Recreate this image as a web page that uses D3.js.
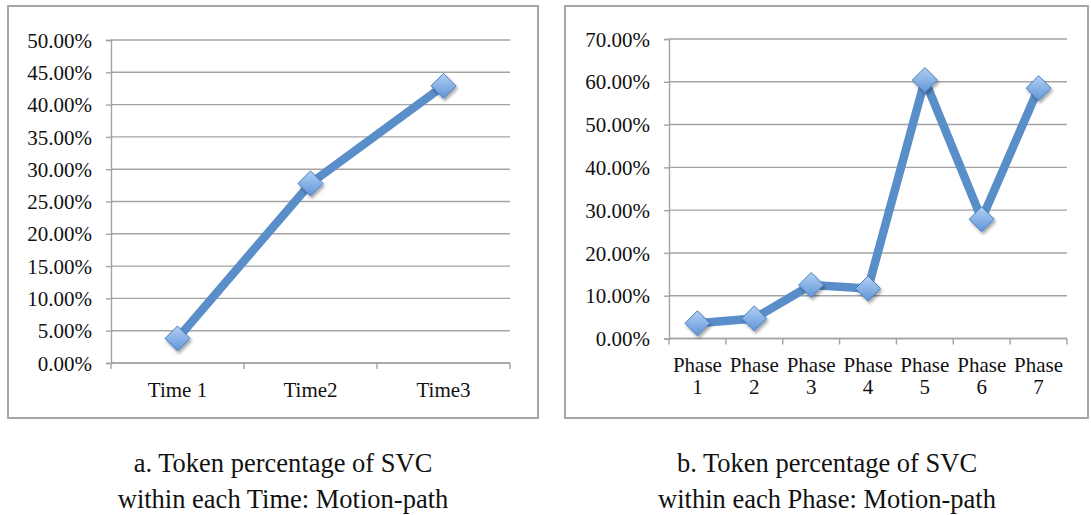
<!DOCTYPE html>
<html>
<head>
<meta charset="utf-8">
<script src="https://cdn.jsdelivr.net/npm/d3@7"></script>
<style>
  html, body { margin: 0; padding: 0; background: #ffffff; }
  svg { display: block; }
  text { font-family: "Liberation Serif", "Times New Roman", serif; fill: #111; }
</style>
</head>
<body>
<svg id="chart" width="1091" height="515"></svg>
<script>
// Panel a: share of SVC tokens per time point
const timeCategories = ["Time 1", "Time2", "Time3"];
const timeValues = [0.038, 0.278, 0.429];
const timeTicks = [0, 0.05, 0.10, 0.15, 0.20, 0.25, 0.30, 0.35, 0.40, 0.45, 0.50];
const timeCaption = ["a. Token percentage of SVC", "within each Time: Motion-path"];

// Panel b: share of SVC tokens per phase
const phaseCategories = ["Phase 1", "Phase 2", "Phase 3", "Phase 4", "Phase 5", "Phase 6", "Phase 7"];
const phaseValues = [0.0355, 0.047, 0.125, 0.117, 0.604, 0.279, 0.585];
const phaseTicks = [0, 0.10, 0.20, 0.30, 0.40, 0.50, 0.60, 0.70];
const phaseCaption = ["b. Token percentage of SVC", "within each Phase: Motion-path"];

const svg = d3.select("#chart");
const defs = svg.append("defs");

const grad = defs.append("linearGradient")
  .attr("id", "markerFill").attr("x1", 0).attr("y1", 0).attr("x2", 0).attr("y2", 1);
grad.append("stop").attr("offset", "0%").attr("stop-color", "#b3d0f3");
grad.append("stop").attr("offset", "100%").attr("stop-color", "#5f95d8");

const shadow = defs.append("filter").attr("id", "markerShadow")
  .attr("x", "-50%").attr("y", "-50%").attr("width", "200%").attr("height", "200%");
shadow.append("feDropShadow")
  .attr("dx", 1.5).attr("dy", 2.5).attr("stdDeviation", 1.6)
  .attr("flood-color", "#000").attr("flood-opacity", 0.35);

const gridColor = "#a3a3a3";
const lineColor = "#5a8ec8";
const fmt = d3.format(".2%");

function drawPanel(opts) {
  const g = svg.append("g");

  // outer frame
  g.append("rect")
    .attr("x", opts.frame[0]).attr("y", opts.frame[1])
    .attr("width", opts.frame[2] - opts.frame[0]).attr("height", opts.frame[3] - opts.frame[1])
    .attr("fill", "none").attr("stroke", "#a6a6a6").attr("stroke-width", 2);

  const x = d3.scaleBand().domain(opts.categories).range([opts.left, opts.right]).padding(0);
  const y = d3.scaleLinear().domain([0, d3.max(opts.ticks)]).range([opts.bottom, opts.top]);

  // horizontal gridlines
  g.append("g").selectAll("line").data(opts.ticks).join("line")
    .attr("x1", opts.left).attr("x2", opts.right)
    .attr("y1", d => y(d)).attr("y2", d => y(d))
    .attr("stroke", gridColor).attr("stroke-width", 1.4);

  // y axis with percentage labels
  const yAxis = g.append("g")
    .attr("transform", `translate(${opts.left},0)`)
    .call(d3.axisLeft(y).tickValues(opts.ticks).tickFormat(fmt).tickSize(5).tickPadding(14));
  yAxis.attr("font-family", null).attr("font-size", null);
  yAxis.select(".domain").attr("stroke", gridColor).attr("stroke-width", 1.4);
  yAxis.selectAll(".tick line").attr("stroke", gridColor).attr("stroke-width", 1.4);
  yAxis.selectAll(".tick text")
    .style("font-family", '"Liberation Serif", serif')
    .style("font-size", "21px").attr("fill", "#111").attr("dy", "0.34em");

  // x axis: baseline plus boundary tick marks
  const xAxis = g.append("g");
  xAxis.append("line")
    .attr("x1", opts.left).attr("x2", opts.right)
    .attr("y1", opts.bottom).attr("y2", opts.bottom)
    .attr("stroke", gridColor).attr("stroke-width", 1.4);
  const bounds = opts.categories.map(c => x(c)).concat([x(opts.categories[opts.categories.length - 1]) + x.bandwidth()]);
  xAxis.selectAll("line.tk").data(bounds).join("line").attr("class", "tk")
    .attr("x1", d => d).attr("x2", d => d)
    .attr("y1", opts.bottom).attr("y2", opts.bottom + 6)
    .attr("stroke", gridColor).attr("stroke-width", 1.4);

  // category labels (wrapped when requested)
  const labels = xAxis.selectAll("text").data(opts.categories).join("text")
    .attr("text-anchor", "middle")
    .attr("x", d => x(d) + x.bandwidth() / 2)
    .attr("y", opts.labelY)
    .style("font-size", "21px");
  labels.each(function(d) {
    const parts = opts.wrap ? d.split(" ") : [d];
    const t = d3.select(this);
    parts.forEach((p, i) => {
      t.append("tspan")
        .attr("x", x(d) + x.bandwidth() / 2)
        .attr("dy", i === 0 ? 0 : 22)
        .text(p);
    });
  });

  const pts = opts.categories.map((c, i) => [x(c) + x.bandwidth() / 2, y(opts.values[i])]);

  // series line
  g.append("path")
    .datum(pts)
    .attr("d", d3.line())
    .attr("fill", "none").attr("stroke", lineColor)
    .attr("stroke-width", 8.5).attr("stroke-linejoin", "round").attr("stroke-linecap", "butt");

  // diamond markers
  const s = 12.5;
  g.append("g").selectAll("path").data(pts).join("path")
    .attr("d", d => `M${d[0]},${d[1] - s}L${d[0] + s},${d[1]}L${d[0]},${d[1] + s}L${d[0] - s},${d[1]}Z`)
    .attr("fill", "url(#markerFill)")
    .attr("stroke", "#4a7fc0").attr("stroke-width", 1)
    .attr("filter", "url(#markerShadow)");

  // caption below the frame
  const cap = g.append("text").attr("text-anchor", "middle").style("font-size", "26.5px");
  opts.caption.forEach((line, i) => {
    cap.append("tspan").attr("x", opts.captionX).attr("y", 472 + i * 36).text(line);
  });
}

drawPanel({
  frame: [8, 6, 538, 418],
  left: 111, right: 510, top: 40, bottom: 363,
  categories: timeCategories, values: timeValues, ticks: timeTicks,
  labelY: 397, wrap: false,
  caption: timeCaption, captionX: 283
});

drawPanel({
  frame: [565, 6, 1088, 418],
  left: 669, right: 1067, top: 39, bottom: 338.5,
  categories: phaseCategories, values: phaseValues, ticks: phaseTicks,
  labelY: 372, wrap: true,
  caption: phaseCaption, captionX: 827
});
</script>
</body>
</html>
